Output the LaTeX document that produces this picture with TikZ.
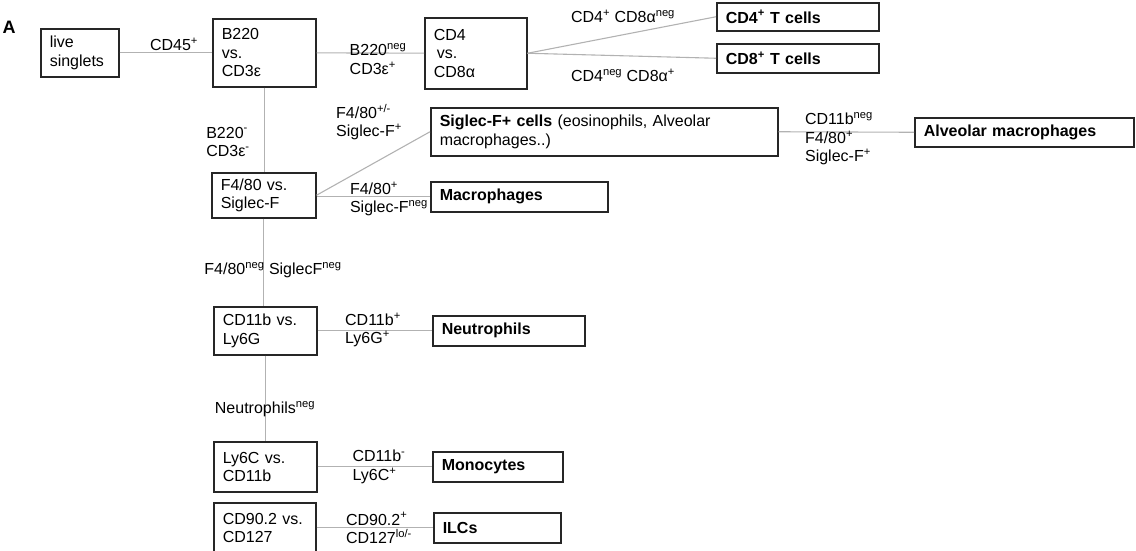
\documentclass[tikz,border=0pt]{standalone}
\usepackage{fontspec}
\setmainfont{Liberation Sans}
\usetikzlibrary{positioning}

\newcommand{\hi}[1]{\textsuperscript{#1}}

\begin{document}
\begin{tikzpicture}[x=1pt,y=-1pt,
    font=\fontsize{16}{18.5}\selectfont,
    gate/.style={draw=black!85, line width=1.5pt, align=left, anchor=north west,
                 inner xsep=9pt, inner ysep=0pt},
    pop/.style={gate, font=\fontsize{16}{18.5}\selectfont\bfseries},
    lab/.style={align=left, inner sep=0pt},
    wire/.style={draw=black!30, line width=1.1pt}]
    \useasboundingbox (0,0) rectangle (1136,550);

    % Panel letter
    \node[font=\fontsize{18}{20}\selectfont\bfseries] (panel) at (9,27) {A};

    % Gating boxes
    \node[gate, text width=60pt, minimum height=48pt] (live) at (40,28) {live\\singlets};
    \node[gate, text width=85pt, minimum height=68pt] (b220) at (212,18) {B220\\vs.\\CD3ε};
    \node[gate, text width=84pt, minimum height=71pt] (cd4) at (424,17) {CD4\\\hspace{3pt}vs.\\CD8α};
    \node[gate, text width=86pt, minimum height=45pt] (f480) at (211,172) {F4/80 vs.\\Siglec-F};
    \node[gate, text width=85pt, minimum height=48pt] (cd11b) at (213,306) {CD11b vs.\\Ly6G};
    \node[gate, text width=85pt, minimum height=50pt] (ly6c) at (213,441) {Ly6C vs.\\CD11b};
    \node[gate, text width=84pt, minimum height=50pt] (cd90) at (213,502) {CD90.2 vs.\\CD127};

    % Populations
    \node[pop, text width=144pt, minimum height=28pt] (tfour) at (716,2) {CD4\hi{+} T cells};
    \node[pop, text width=144pt, minimum height=29pt] (teight) at (716,43) {CD8\hi{+} T cells};
    \node[gate, text width=329pt, minimum height=48pt] (siglec) at (430,107)
        {\textbf{Siglec-F+ cells} (eosinophils, Alveolar\\macrophages..)};
    \node[pop, text width=159pt, minimum height=30pt] (macro) at (430,181) {Macrophages};
    \node[pop, text width=201pt, minimum height=29pt] (alv) at (914,117) {Alveolar macrophages};
    \node[pop, text width=134pt, minimum height=30pt] (neut) at (432,315) {Neutrophils};
    \node[pop, text width=112pt, minimum height=30pt] (mono) at (432,451) {Monocytes};
    \node[pop, text width=109pt, minimum height=30pt] (ilc) at (433,512) {ILCs};

    % Connections
    \draw[wire] (live) -- (b220);
    \draw[wire] (b220) -- (cd4);
    \draw[wire] (cd4.east) -- (tfour.west);
    \draw[wire] (cd4.east) -- (teight.west);
    \draw[wire] (b220.south) -- (b220.south |- f480.north);
    \draw[wire] (f480.east) -- (siglec.west);
    \draw[wire] (macro.west -| f480.east) -- (macro.west);
    \draw[wire] (siglec.east) -- (alv.west);
    \draw[wire] (f480.south) -- (f480.south |- cd11b.north);
    \draw[wire] (cd11b.east) -- (neut.west);
    \draw[wire] (cd11b.south) -- (cd11b.south |- ly6c.north);
    \draw[wire] (ly6c.east) -- (mono.west);
    \draw[wire] (cd90.east |- ilc.west) -- (ilc.west);

    % Gate labels
    \node[lab] (lcd45) at (174,44) {CD45\hi{+}};
    \node[lab] (lb220) at (378,59) {B220\hi{neg}\\CD3ε\hi{+}};
    \node[lab] (lfourpos) at (623,16) {CD4\hi{+} CD8α\hi{neg}};
    \node[lab] (leightpos) at (623,75) {CD4\hi{neg} CD8α\hi{+}};
    \node[lab] (lbneg) at (228,142) {B220\hi{-}\\CD3ε\hi{-}};
    \node[lab] (lsig) at (369,122) {F4/80\hi{+/-}\\Siglec-F\hi{+}};
    \node[lab] (lmac) at (389,199) {F4/80\hi{+}\\Siglec-F\hi{neg}};
    \node[lab] (lalv) at (839,139) {CD11b\hi{neg}\\F4/80\hi{+}\\Siglec-F\hi{+}};
    \node[lab] (lfneg) at (273,270) {F4/80\hi{neg} SiglecF\hi{neg}};
    \node[lab] (lneut) at (373,330) {CD11b\hi{+}\\Ly6G\hi{+}};
    \node[lab] (lnneg) at (265,409) {Neutrophils\hi{neg}};
    \node[lab] (lmono) at (379,467) {CD11b\hi{-}\\Ly6C\hi{+}};
    \node[lab] (lilc) at (379,528) {CD90.2\hi{+}\\CD127\hi{lo/-}};
\end{tikzpicture}
\end{document}
